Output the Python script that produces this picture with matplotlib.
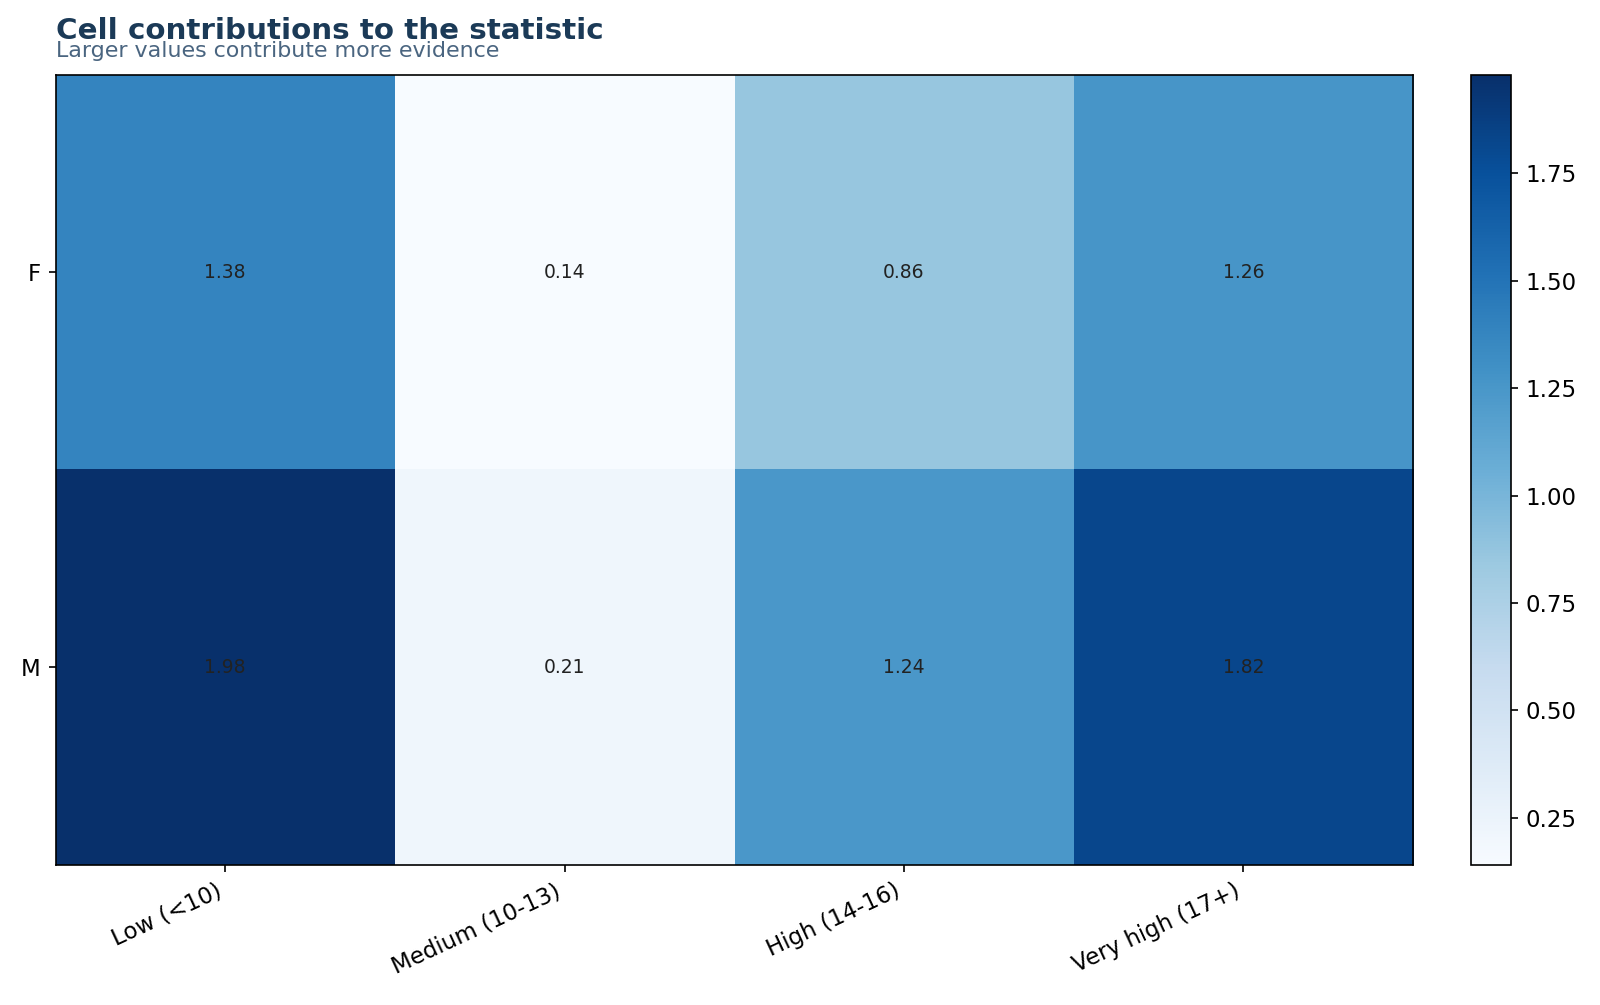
import numpy as np
import matplotlib
matplotlib.use("Agg")
import matplotlib.pyplot as plt

# Row / column categories and cell contributions
rows = ["F", "M"]
cols = ["Low (<10)", "Medium (10-13)", "High (14-16)", "Very high (17+)"]
f_values = [1.38, 0.14, 0.86, 1.26]
m_values = [1.98, 0.21, 1.24, 1.82]

data = np.array([f_values, m_values])

plt.rcParams["font.size"] = 11

W, H = 1600, 1005
fig = plt.figure(figsize=(W / 150, H / 150), dpi=150)

# axes placement (pixels from top-left)
left, right, top, bottom = 55.5, 1413, 74.5, 865
ax = fig.add_axes([left / W, 1 - bottom / H, (right - left) / W, (bottom - top) / H])
cax = fig.add_axes([1471 / W, 1 - bottom / H, 40 / W, (bottom - top) / H])

im = ax.imshow(data, cmap="Blues", aspect="auto",
               vmin=data.min(), vmax=data.max())

ax.set_xticks(range(len(cols)))
ax.set_xticklabels(cols, rotation=25, ha="right")
ax.set_yticks(range(len(rows)))
ax.set_yticklabels(rows)

# annotate each cell
for i in range(len(rows)):
    for j in range(len(cols)):
        ax.text(j, i, f"{data[i, j]:.2f}", ha="center", va="center",
                fontsize=9, color="#222222")

fig.colorbar(im, cax=cax)

fig.text(56 / W, 1 - 31 / H, "Cell contributions to the statistic",
         fontsize=14.1, fontweight="bold", color="#1b3a57", va="center")
fig.text(56 / W, 1 - 51 / H, "Larger values contribute more evidence",
         fontsize=10.6, color="#4a6580", va="center")

fig.savefig("out.png", dpi=150)
